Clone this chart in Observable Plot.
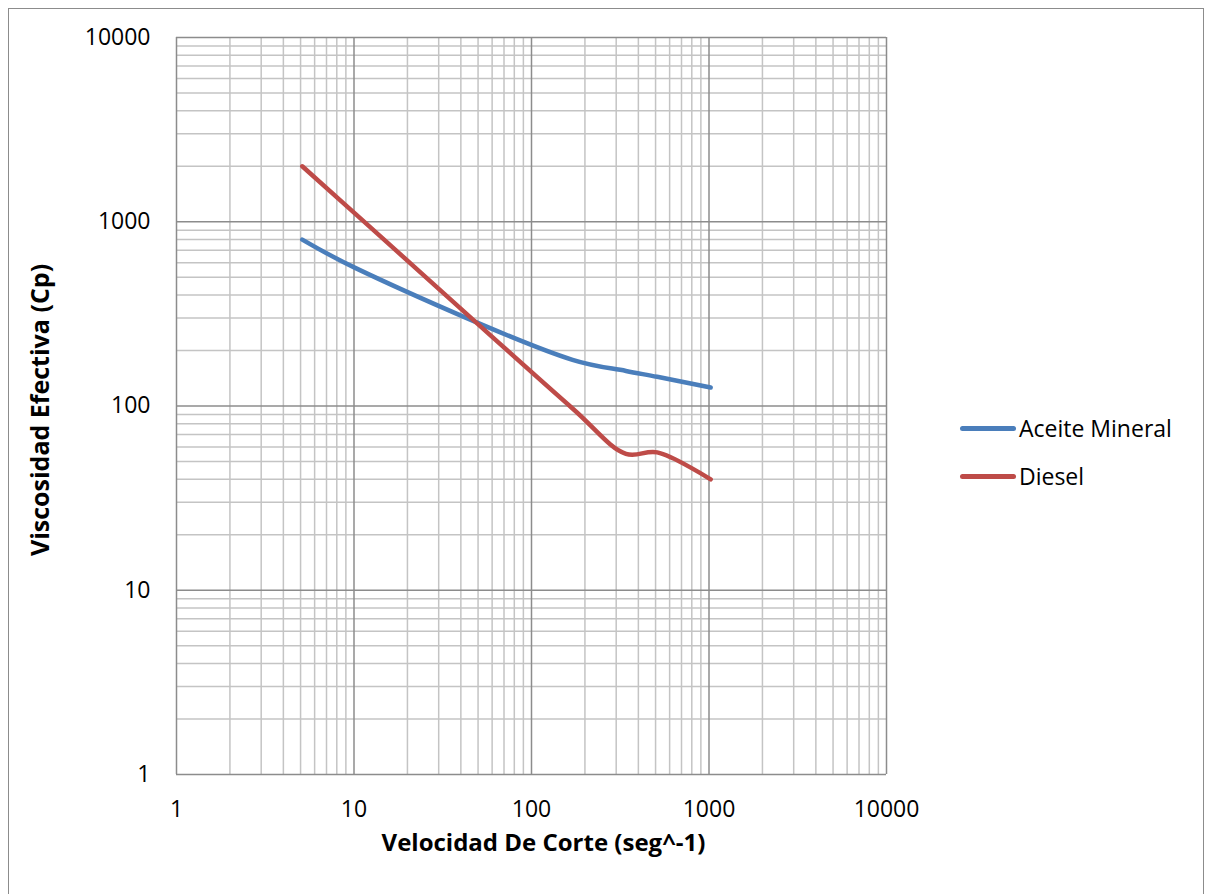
<!DOCTYPE html>
<html>
<head>
<meta charset="utf-8">
<script src="https://cdn.jsdelivr.net/npm/d3@7"></script>
<script src="https://cdn.jsdelivr.net/npm/@observablehq/plot@0.6"></script>
<style>
  html, body { margin: 0; padding: 0; background: #fff; }
  #wrap { position: relative; width: 1205px; height: 894px; overflow: hidden; font-family: "Open Sans", sans-serif; }
  #border { position: absolute; left: 8px; top: 8px; width: 1195.5px; height: 900px; border: 1.5px solid #8c8c8c; box-sizing: border-box; }
  #chart { position: absolute; left: 0; top: 0; }
  .leg { position: absolute; display: flex; align-items: center; font-size: 23px; color: #000; }
  .leg .sw { width: 56px; height: 5px; border-radius: 3px; margin-right: 3px; }
</style>
</head>
<body>
<div id="wrap">
  <div id="border"></div>
  <div id="chart"></div>
  <div id="legend"></div>
</div>
<script>
// Data
const shearRate = [5.11, 10.22, 170.3, 340.6, 510.9, 1021.8];
const aceiteMineral = [800, 560, 178, 155, 144, 126];
const diesel = [2000, 1100, 97, 55, 56, 40];
const seriesNames = ["Aceite Mineral", "Diesel"];
const seriesColors = ["#4a7ebb", "#be4b48"];
const tickValues = [1, 10, 100, 1000, 10000];

const rows = [];
shearRate.forEach((x, i) => rows.push({series: seriesNames[0], x, y: aceiteMineral[i]}));
shearRate.forEach((x, i) => rows.push({series: seriesNames[1], x, y: diesel[i]}));

const minor = [];
for (const d of [1, 10, 100, 1000]) for (let k = 2; k <= 9; k++) minor.push(k * d);

const plot = Plot.plot({
  width: 1205,
  height: 894,
  marginLeft: 176,
  marginTop: 37,
  marginRight: 319,
  marginBottom: 120,
  style: {fontFamily: "Open Sans, sans-serif", fontSize: "23px", color: "#000", background: "transparent", overflow: "visible"},
  x: {type: "log", domain: [1, 10000]},
  y: {type: "log", domain: [1, 10000]},
  color: {domain: seriesNames, range: seriesColors},
  marks: [
    Plot.ruleX(minor, {stroke: "#c4c4c4", strokeWidth: 1.5}),
    Plot.ruleY(minor, {stroke: "#c4c4c4", strokeWidth: 1.5}),
    Plot.ruleX(tickValues, {stroke: "#8c8c8c", strokeWidth: 1.5}),
    Plot.ruleY(tickValues, {stroke: "#8c8c8c", strokeWidth: 1.5}),
    Plot.axisX({ticks: tickValues, tickSize: 0, tickPadding: 26, tickFormat: d3.format("d"), label: null}),
    Plot.axisY({ticks: tickValues, tickSize: 0, tickPadding: 26, tickFormat: d3.format("d"), label: null}),
    Plot.line(rows, {x: "x", y: "y", z: "series", stroke: "series", strokeWidth: 4.5, curve: "catmull-rom", strokeLinecap: "round"}),
    Plot.text(["Viscosidad Efectiva (Cp)"], {frameAnchor: "left", dx: -136, dy: 4, rotate: -90, textAnchor: "middle", lineAnchor: "middle", fontWeight: "bold", fontSize: 25}),
    Plot.text(["Velocidad De Corte (seg^-1)"], {frameAnchor: "bottom", dy: 69, dx: 12, textAnchor: "middle", lineAnchor: "middle", fontWeight: "bold", fontSize: 24})
  ]
});
document.getElementById("chart").appendChild(plot);

const legend = document.getElementById("legend");
const legendTop = [428, 476];
seriesNames.forEach((name, i) => {
  const item = document.createElement("div");
  item.className = "leg";
  item.style.left = "960px";
  item.style.top = (legendTop[i] - 16) + "px";
  item.style.height = "32px";
  item.innerHTML = `<span class="sw" style="background:${seriesColors[i]}"></span><span>${name}</span>`;
  legend.appendChild(item);
});
</script>
</body>
</html>
